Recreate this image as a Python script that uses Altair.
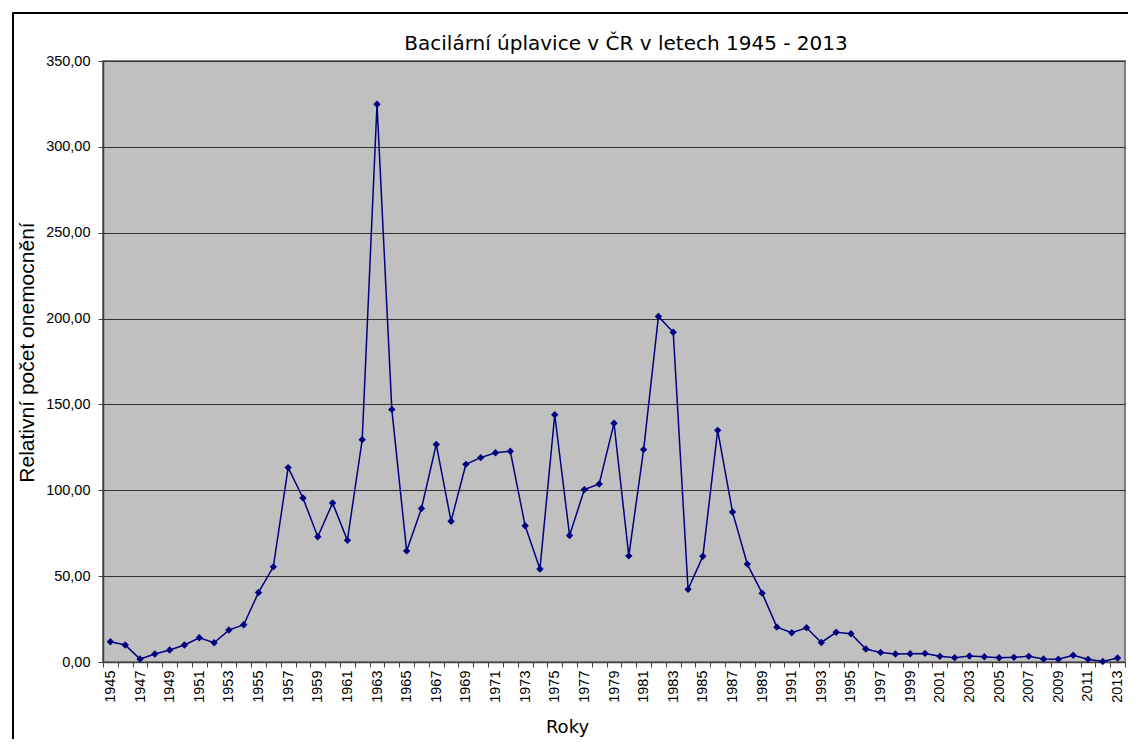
import altair as alt
import pandas as pd

years = [str(y) for y in range(1945, 2014)]
values = [
    11.8, 9.9, 1.7, 4.7, 7.0, 9.9, 14.1, 11.2, 18.6, 21.7,
    40.5, 55.4, 113.2, 95.5, 72.9, 92.6, 70.9, 129.5, 324.8, 147.1,
    64.7, 89.4, 126.7, 82.0, 115.1, 119.0, 121.9, 122.7, 79.3, 54.2,
    144.0, 73.7, 100.4, 103.7, 139.0, 61.8, 123.7, 201.2, 192.0, 42.3,
    61.6, 134.9, 87.4, 57.0, 40.1, 20.3, 17.0, 19.9, 11.4, 17.3,
    16.5, 7.6, 5.6, 4.7, 4.8, 5.0, 3.3, 2.5, 3.5, 3.1,
    2.5, 2.7, 3.3, 1.7, 1.6, 3.9, 1.6, 0.3, 2.3,
]
y_ticks = [0, 50, 100, 150, 200, 250, 300, 350]
title_text = "Bacilární úplavice v ČR v letech 1945 - 2013"

df = pd.DataFrame({"Rok": years, "Hodnota": values})

W, H = 1022, 601

x_enc = alt.X(
    "Rok:O",
    sort=years,
    scale=alt.Scale(type="band", paddingInner=0, paddingOuter=0),
    axis=alt.Axis(
        title="Roky",
        labelAngle=-90,
        tickBand="extent",
        labelExpr="toNumber(datum.label) % 2 == 1 ? datum.label : ''",
        labelFont="Liberation Sans",
        labelFontSize=14.5,
        labelColor="#000000",
        labelPadding=3,
        tickSize=5,
        tickColor="#404040",
        domainColor="#404040",
        domainWidth=1.5,
        grid=False,
        titleFont="DejaVu Sans",
        titleFontSize=18,
        titleFontWeight="normal",
        titleColor="#000000",
        titleX=464,
        titleY=70,
        titleAnchor="middle",
        titleAlign="center",
        titleBaseline="alphabetic",
    ),
)

y_enc = alt.Y(
    "Hodnota:Q",
    scale=alt.Scale(domain=[0, 350], nice=False),
    axis=alt.Axis(
        title="Relativní počet onemocnění",
        values=y_ticks,
        labelExpr="replace(format(datum.value, '.2f'), '.', ',')",
        labelFont="Liberation Sans",
        labelFontSize=14.5,
        labelColor="#000000",
        labelPadding=8,
        tickSize=5,
        tickColor="#404040",
        domainColor="#404040",
        domainWidth=1.5,
        grid=True,
        gridColor="#333333",
        gridWidth=1,
        titleFont="Liberation Sans",
        titleFontSize=21,
        titleFontWeight="normal",
        titleColor="#000000",
        titleX=-76,
        titleY=291,
        titleAngle=-90,
        titleAlign="center",
        titleBaseline="middle",
    ),
)

frame = alt.Chart(alt.Data(values=[{"a": 1}])).mark_rect(
    filled=False, stroke="#000000", strokeWidth=2
).encode(
    x=alt.value(-90), x2=alt.value(W + 40),
    y=alt.value(-48), y2=alt.value(H + 200),
)

title = alt.Chart(alt.Data(values=[{"t": title_text}])).mark_text(
    font="DejaVu Sans", fontSize=20, color="#000000",
    align="center", baseline="alphabetic",
).encode(
    x=alt.value(523), y=alt.value(-11), text="t:N",
)

line = alt.Chart(df).mark_line(color="#000080", strokeWidth=1.5).encode(x=x_enc, y=y_enc)
pts = alt.Chart(df).mark_point(
    shape="diamond", filled=True, color="#000080", size=55, opacity=1
).encode(x=x_enc, y=y_enc)

chart = alt.layer(frame, title, line, pts).properties(
    width=W,
    height=H,
    autosize=alt.AutoSizeParams(type="none"),
    padding={"left": 95, "top": 53, "right": 3, "bottom": 77},
    background="#ffffff",
).configure_view(
    fill="#C0C0C0", stroke="#808080", strokeWidth=2
)

chart.save("out.html", embed_options={"renderer": "svg", "actions": False})
